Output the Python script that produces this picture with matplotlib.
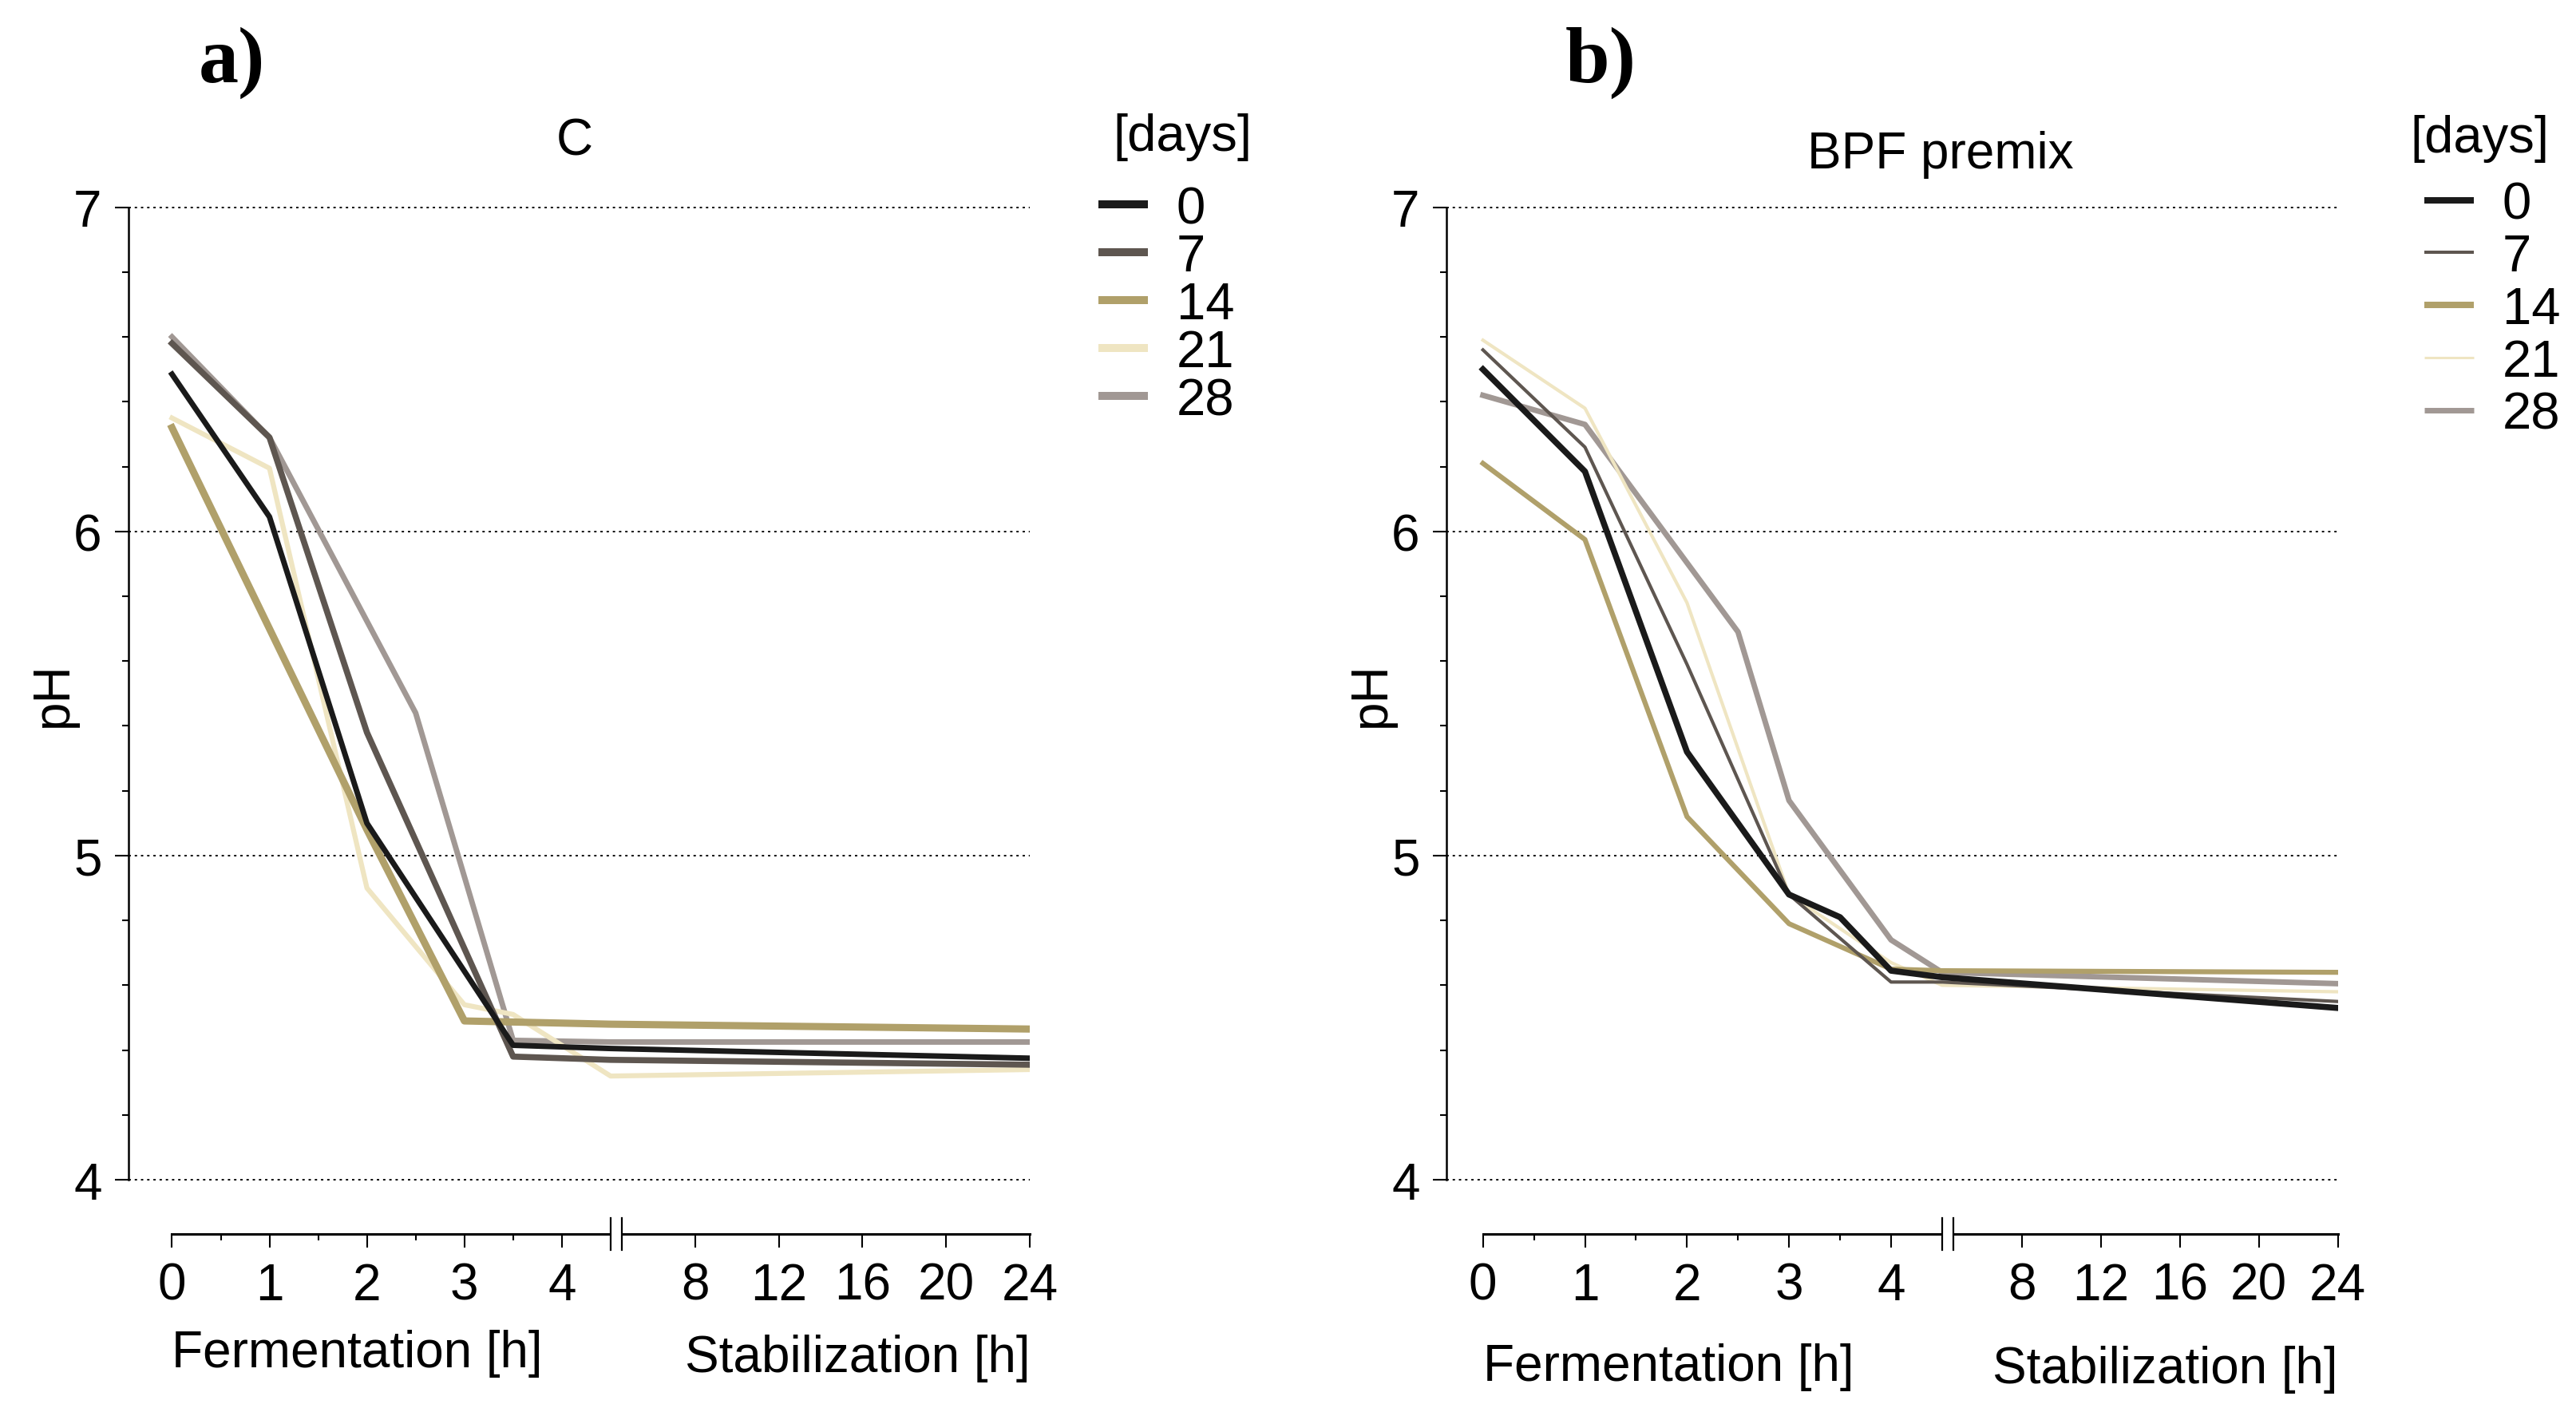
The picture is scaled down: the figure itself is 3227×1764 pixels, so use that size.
import numpy as np
import matplotlib.pyplot as plt
from matplotlib.lines import Line2D
from matplotlib import font_manager

plt.rcParams['font.family'] = ['Liberation Sans', 'DejaVu Sans']

# narrow font for the tick numbers if it is installed
names = {f.name for f in font_manager.fontManager.ttflist}
narrow = 'Liberation Sans Narrow' if 'Liberation Sans Narrow' in names else 'Liberation Sans'

# storage time of the samples (legend)
days = ["0", "7", "14", "21", "28"]

# a) C : pH during fermentation (0-4.5 h) and stabilization (up to 24 h)
a_x0 = [0, 1, 2, 3.5, 4.5, 24]
a_ph0 = [6.485, 6.045, 5.10, 4.415, 4.405, 4.375]
a_x7 = [0, 1, 2, 3.5, 4.5, 24]
a_ph7 = [6.58, 6.29, 5.38, 4.38, 4.37, 4.355]
a_x14 = [0, 1, 2, 3, 4.5, 24]
a_ph14 = [6.32, 5.70, 5.08, 4.49, 4.48, 4.465]
a_x21 = [0, 1, 2, 3, 3.5, 4.5, 24]
a_ph21 = [6.35, 6.195, 4.90, 4.54, 4.51, 4.32, 4.34]
a_x28 = [0, 1, 2.5, 3.5, 4.5, 24]
a_ph28 = [6.60, 6.29, 5.44, 4.43, 4.425, 4.425]

# b) BPF premix
b_x0 = [0, 1, 2, 3, 3.5, 4, 4.5, 24]
b_ph0 = [6.50, 6.185, 5.32, 4.88, 4.81, 4.645, 4.625, 4.53]
b_x7 = [0, 1, 2, 3, 4, 4.5, 24]
b_ph7 = [6.56, 6.26, 5.59, 4.88, 4.61, 4.61, 4.55]
b_x14 = [0, 1, 2, 3, 4, 4.5, 24]
b_ph14 = [6.21, 5.975, 5.12, 4.79, 4.65, 4.645, 4.64]
b_x21 = [0, 1, 2, 3, 4, 4.5, 24]
b_ph21 = [6.59, 6.38, 5.78, 4.88, 4.67, 4.60, 4.58]
b_x28 = [0, 1, 2.5, 3, 4, 4.5, 24]
b_ph28 = [6.42, 6.33, 5.69, 5.17, 4.74, 4.64, 4.605]

x_ticks = [0, 1, 2, 3, 4, 8, 12, 16, 20, 24]
x_minor = [0.5, 1.5, 2.5, 3.5]
y_ticks = [4, 5, 6, 7]

colors = ['#1a1a1a', '#5e5650', '#b0a06a', '#efe5c2', '#a19894']


def broken_scale(r, g):
    # fermentation part is linear, stabilization part is squeezed after a small gap
    def fwd(x):
        x = np.asarray(x, dtype=float)
        return np.where(x <= 4.5, x, 4.5 + g + (x - 4.5) * r)

    def inv(u):
        u = np.asarray(u, dtype=float)
        return np.where(u <= 4.5, u,
                        np.where(u < 4.5 + g, 4.5, 4.5 + (u - 4.5 - g) / r))
    return fwd, inv


def draw_panel(ax, xs, ys, lws, leg_lws, title, title_x, title_y, scale,
               xmin, leg_pos, leg_space, leg_title_pos, lab_y):
    ax.set_xscale('function', functions=broken_scale(*scale))
    for x, y, c, w in list(zip(xs, ys, colors, lws))[::-1]:
        ax.plot(x, y, color=c, lw=w, zorder=3)
    ax.set_xlim(xmin, 24)
    ax.set_ylim(4, 7)

    # spines
    for s in ['top', 'right']:
        ax.spines[s].set_visible(False)
    ax.spines['left'].set_bounds(4, 7)
    ax.spines['left'].set_linewidth(1.8)
    ax.spines['bottom'].set_position(('outward', 49))
    ax.spines['bottom'].set_bounds(0, 24)
    ax.spines['bottom'].set_linewidth(2.2)

    # axis break
    tr = ax.spines['bottom'].get_spine_transform()
    ax.plot([4.5, 4.5 + 1e-6], [0, 0], transform=tr, color='white', lw=5,
            clip_on=False, zorder=5, solid_capstyle='butt')
    for bx in [4.5, 4.5 + 1e-6]:
        ax.plot([bx, bx], [-0.0164, 0.0164], transform=tr, color='black',
                lw=1.6, clip_on=False, zorder=6)

    # ticks
    ax.set_xticks(x_ticks)
    ax.set_xticklabels([str(t) for t in x_ticks])
    ax.set_xticks(x_minor, minor=True)
    ax.set_yticks(y_ticks)
    ax.set_yticks(np.arange(4, 7.01, 0.2), minor=True)
    ax.tick_params(which='major', length=12, width=1.5, labelsize=46,
                   labelfontfamily=narrow)
    ax.tick_params(which='minor', length=6, width=1.5)
    ax.tick_params(axis='x', which='major', pad=13)
    ax.tick_params(axis='y', which='major', pad=12)

    # dotted grid
    ax.set_axisbelow(True)
    ax.grid(axis='y', which='major', color='black', lw=1.4,
            linestyle=(0, (1.5, 2.5)))
    for gl in ax.get_ygridlines():
        gl.set_clip_on(False)

    # labels
    ax.set_ylabel('pH', fontsize=46)
    ax.yaxis.set_label_coords(-0.057, 0.5)
    ax.text(title_x, title_y, title, transform=ax.transAxes, ha='center',
            va='baseline', fontsize=46)
    xt = ax.get_xaxis_transform()
    ax.text(0, lab_y[0], 'Fermentation [h]', transform=xt, ha='left',
            va='baseline', fontsize=46)
    ax.text(24, lab_y[1], 'Stabilization [h]', transform=xt, ha='right',
            va='baseline', fontsize=46)

    # legend (title placed on its own above the entries)
    handles = [Line2D([], [], color=c, lw=w, solid_capstyle='butt')
               for c, w in zip(colors, leg_lws)]
    ax.legend(handles, days, loc='center left',
              bbox_to_anchor=leg_pos, bbox_transform=ax.figure.transFigure,
              frameon=False, fontsize=47,
              handlelength=0.95, handletextpad=0.55, labelspacing=leg_space,
              borderpad=0, borderaxespad=0)
    ax.figure.text(leg_title_pos[0], leg_title_pos[1], '[days]', fontsize=47,
                   ha='center', va='center')


fig = plt.figure(figsize=(32.27, 17.65), dpi=100)
ax_a = fig.add_axes([0.0499, 0.1620, 0.3499, 0.6903])
ax_b = fig.add_axes([0.5615, 0.1620, 0.3460, 0.6903])

draw_panel(ax_a,
           [a_x0, a_x7, a_x14, a_x21, a_x28],
           [a_ph0, a_ph7, a_ph14, a_ph21, a_ph28],
           [5.0, 5.5, 6.5, 4.5, 5.0], [7.2] * 5,
           'C', 0.495, 1.0547, (0.21475, 0.1148), -0.446,
           (0.4264, 0.783), 0.0, (0.459, 0.9025), (-0.1918, -0.1967))

draw_panel(ax_b,
           [b_x0, b_x7, b_x14, b_x21, b_x28],
           [b_ph0, b_ph7, b_ph14, b_ph21, b_ph28],
           [5.5, 3.0, 4.5, 3.0, 5.0], [5.8, 2.9, 5.8, 2.2, 5.0],
           'BPF premix', 0.554, 1.0408, (0.19327, 0.10955), -0.358,
           (0.9411, 0.7795), 0.09, (0.9625, 0.9014), (-0.2061, -0.2085))

# panel letters
fig.text(0.0899, 0.9416, 'a)', fontsize=72, fontweight='bold',
         family='Liberation Serif', ha='center', va='baseline')
fig.text(0.6213, 0.9416, 'b)', fontsize=72, fontweight='bold',
         family='Liberation Serif', ha='center', va='baseline')

fig.savefig('out.png', dpi=100, facecolor='white')
